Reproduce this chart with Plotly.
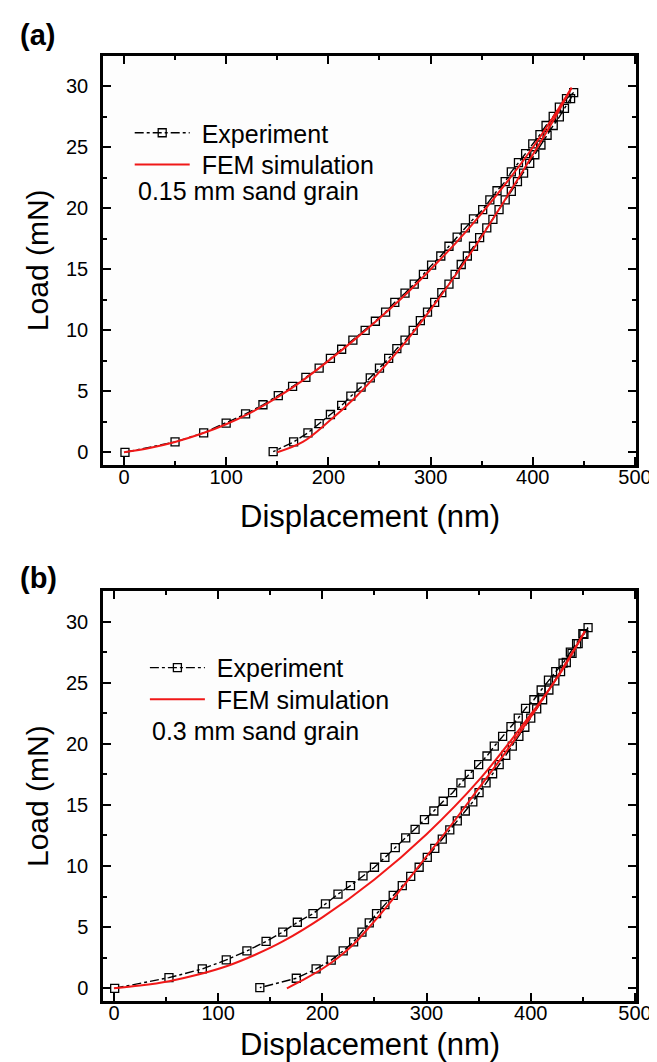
import plotly.graph_objects as go

# ---------------- Panel (a): 0.15 mm sand grain ----------------
a_exp_load_x = [1, 50, 78, 100, 119, 136, 151, 165, 178, 191, 202, 213, 224, 236, 246, 256, 265, 275, 284, 293,
                301, 310, 318, 326, 334, 342, 351, 358, 365, 373, 379, 386, 393, 400, 407, 413, 420, 426, 433, 440]
a_exp_load_y = [0.0, 0.85, 1.6, 2.4, 3.15, 3.9, 4.65, 5.4, 6.15, 6.9, 7.7, 8.45, 9.2, 10.0, 10.75, 11.5, 12.3, 13.05, 13.8, 14.6,
                15.35, 16.1, 16.9, 17.65, 18.4, 19.15, 19.9, 20.7, 21.45, 22.2, 23.0, 23.75, 24.5, 25.3, 26.05, 26.8, 27.55, 28.3, 29.0, 29.5]
a_exp_unload_x = [437, 431, 426, 420, 414, 408, 402, 397, 391, 385, 379, 373, 367, 361, 355, 348, 342, 336, 330, 324,
                  318, 311, 304, 297, 290, 283, 275, 267, 259, 250, 241, 232, 222, 213, 202, 191, 180, 166, 146]
a_exp_unload_y = [29.0, 28.2, 27.5, 26.8, 26.0, 25.2, 24.4, 23.7, 22.9, 22.2, 21.4, 20.7, 19.9, 19.1, 18.4, 17.6, 16.9, 16.1, 15.4, 14.6,
                  13.8, 13.1, 12.3, 11.5, 10.8, 10.0, 9.2, 8.5, 7.7, 6.9, 6.1, 5.35, 4.6, 3.85, 3.1, 2.35, 1.6, 0.85, 0.05]
a_fem_load_x = [0, 25, 50, 75, 100, 125, 150, 175, 200, 225, 250, 275, 300, 325, 350, 375, 400, 420, 438]
a_fem_load_y = [0, 0.35, 0.85, 1.5, 2.3, 3.3, 4.5, 5.9, 7.5, 9.2, 11.0, 12.9, 15.0, 17.2, 19.6, 22.2, 25.0, 27.5, 29.9]
a_fem_unload_x = [438, 420, 400, 375, 350, 325, 300, 275, 250, 225, 200, 175, 150]
a_fem_unload_y = [29.9, 27.2, 24.4, 21.0, 17.7, 14.6, 11.7, 9.0, 6.6, 4.4, 2.5, 0.85, 0]

# ---------------- Panel (b): 0.3 mm sand grain ----------------
b_exp_load_x = [0.7, 52.8, 84.8, 107.8, 127.6, 146, 162, 176, 191, 203, 215, 227, 239, 250, 260, 270, 280, 289, 298, 307,
                316, 325, 333, 341, 350, 358, 365, 373, 381, 388, 395, 403, 410, 417, 424, 431, 438, 444, 450, 455]
b_exp_load_y = [0, 0.87, 1.58, 2.32, 3.06, 3.83, 4.6, 5.4, 6.1, 6.9, 7.7, 8.4, 9.2, 9.9, 10.7, 11.5, 12.3, 13.0, 13.8, 14.5,
                15.3, 16.0, 16.8, 17.5, 18.3, 19.0, 19.8, 20.6, 21.4, 22.1, 22.9, 23.6, 24.4, 25.2, 25.9, 26.6, 27.5, 28.2, 29.0, 29.5]
b_exp_unload_x = [451, 445.5, 439.6, 434.1, 428.6, 423.1, 417.4, 411.4, 405.7, 400, 394.3, 388.6, 382.3, 376, 369.7, 363.4,
                  357.1, 350.4, 344.4, 337.2, 329.5, 322.3, 315.1, 307.9, 300.7, 292.9, 284.8, 276.7, 268, 260, 252, 245,
                  238, 230, 220, 208.5, 194, 175, 140]
b_exp_unload_y = [28.95, 28.2, 27.4, 26.65, 25.9, 25.15, 24.4, 23.6, 22.85, 22.1, 21.35, 20.6, 19.8, 19.05, 18.3, 17.55,
                  16.8, 16.0, 15.25, 14.5, 13.7, 12.95, 12.2, 11.45, 10.7, 9.9, 9.15, 8.4, 7.6, 6.85, 6.1, 5.35,
                  4.6, 3.8, 3.06, 2.3, 1.58, 0.82, 0.05]
b_fem_load_x = [0, 25, 53, 80, 108, 135, 162, 200, 250, 300, 350, 400, 430, 452]
b_fem_load_y = [0, 0.22, 0.58, 1.1, 1.8, 2.72, 3.83, 5.8, 8.9, 12.6, 17.0, 22.4, 26.0, 29.2]
b_fem_unload_x = [452, 425, 400, 375, 350, 325, 300, 280, 260, 245, 230, 215, 200, 185, 166]
b_fem_unload_y = [29.2, 25.4, 22.2, 19.2, 16.35, 13.5, 10.8, 8.6, 6.5, 5.0, 3.6, 2.5, 1.6, 0.85, 0]

x_ticks = [0, 100, 200, 300, 400, 500]
y_ticks = [0, 5, 10, 15, 20, 25, 30]

FONT = "Liberation Sans, Arial, Helvetica, sans-serif"
RED = "#f01818"
NBSP = "\u00a0"

fig = go.Figure()


def add_panel(exp_x, exp_y, fem_lx, fem_ly, fem_ux, fem_uy, xa, ya, leg_exp, leg_fem):
    fig.add_trace(go.Scatter(
        x=exp_x, y=exp_y, mode="lines+markers", name=NBSP + "Experiment",
        line=dict(color="black", width=1.4, dash="dashdot"),
        marker=dict(symbol="square-open", size=8, color="black", line=dict(width=1.3, color="black")),
        xaxis=xa, yaxis=ya, legend=leg_exp))
    fig.add_trace(go.Scatter(
        x=fem_lx, y=fem_ly, mode="lines", name=NBSP + "FEM simulation",
        line=dict(color=RED, width=2, shape="spline", smoothing=1.0),
        xaxis=xa, yaxis=ya, legend=leg_fem))
    fig.add_trace(go.Scatter(
        x=fem_ux, y=fem_uy, mode="lines", name="FEM simulation", showlegend=False,
        line=dict(color=RED, width=2, shape="spline", smoothing=1.0),
        xaxis=xa, yaxis=ya, legend=leg_fem))


add_panel(a_exp_load_x + a_exp_unload_x, a_exp_load_y + a_exp_unload_y,
          a_fem_load_x, a_fem_load_y, a_fem_unload_x, a_fem_unload_y, "x", "y", "legend", "legend2")
add_panel(b_exp_load_x + b_exp_unload_x, b_exp_load_y + b_exp_unload_y,
          b_fem_load_x, b_fem_load_y, b_fem_unload_x, b_fem_unload_y, "x2", "y2", "legend3", "legend4")

axis_common = dict(
    showline=True, linewidth=2.5, linecolor="black", mirror="allticks",
    ticks="inside", ticklen=8, tickwidth=2, tickcolor="black",
    showgrid=False, zeroline=False,
    tickfont=dict(family=FONT, size=20, color="black"),
)
xminor = dict(dtick=50, ticks="inside", ticklen=4, tickwidth=2, tickcolor="black")
yminor = dict(dtick=2.5, ticks="inside", ticklen=4, tickwidth=2, tickcolor="black")


def leg(x, y):
    return dict(x=x, y=y, xanchor="left", yanchor="middle", bgcolor="rgba(0,0,0,0)",
                font=dict(family=FONT, size=25, color="black"), itemwidth=55, tracegroupgap=0)


fig.update_layout(
    width=657, height=1062,
    margin=dict(l=95, r=29, t=48, b=69),
    paper_bgcolor="white", plot_bgcolor="#fdfdfd",
    font=dict(family=FONT, color="black"),
    xaxis=dict(domain=[0, 1], range=[-20.5, 501], tickvals=x_ticks, anchor="y", minor=xminor,
               ticklabelstandoff=-8, **axis_common),
    yaxis=dict(domain=[0.5672, 1.0], range=[-1.04, 32.5], tickvals=y_ticks, anchor="x", minor=yminor,
               ticklabelstandoff=8, **axis_common),
    xaxis2=dict(domain=[0, 1], range=[-10.5, 501], tickvals=x_ticks, anchor="y2", minor=xminor,
                ticklabelstandoff=-8, **axis_common),
    yaxis2=dict(domain=[0.0, 0.4339], range=[-1.04, 32.5], tickvals=y_ticks, anchor="x2", minor=yminor,
                ticklabelstandoff=8, **axis_common),
    legend=leg(0.0501, 0.9185),
    legend2=leg(0.0501, 0.8850),
    legend3=leg(0.0786, 0.3525),
    legend4=leg(0.0786, 0.3190),
    showlegend=True,
)

annotations = [
    dict(text="0.15 mm sand grain", x=0.0625, y=0.8568, xref="paper", yref="paper",
         xanchor="left", yanchor="middle", showarrow=False, font=dict(family=FONT, size=25, color="black")),
    dict(text="0.3 mm sand grain", x=0.088, y=0.2855, xref="paper", yref="paper",
         xanchor="left", yanchor="middle", showarrow=False, font=dict(family=FONT, size=25, color="black")),
    dict(text="<b>(a)</b>", x=-0.16, y=1.022, xref="paper", yref="paper",
         xanchor="left", yanchor="middle", showarrow=False, font=dict(family=FONT, size=29, color="black")),
    dict(text="<b>(b)</b>", x=-0.16, y=0.4476, xref="paper", yref="paper",
         xanchor="left", yanchor="middle", showarrow=False, font=dict(family=FONT, size=29, color="black")),
    dict(text="Displacement (nm)", x=0.5, y=1 - (508 - 48) / 945, xref="paper", yref="paper",
         xanchor="center", yanchor="middle", showarrow=False, font=dict(family=FONT, size=31, color="black")),
    dict(text="Displacement (nm)", x=0.5, y=1 - (1036 - 48) / 945, xref="paper", yref="paper",
         xanchor="center", yanchor="middle", showarrow=False, font=dict(family=FONT, size=31, color="black")),
    dict(text="Load (mN)", x=-0.1238, y=0.784, xref="paper", yref="paper", textangle=-90,
         xanchor="center", yanchor="middle", showarrow=False, font=dict(family=FONT, size=30, color="black")),
    dict(text="Load (mN)", x=-0.1238, y=0.2169, xref="paper", yref="paper", textangle=-90,
         xanchor="center", yanchor="middle", showarrow=False, font=dict(family=FONT, size=30, color="black")),
]
fig.update_layout(annotations=annotations)

fig.write_html("out.html")
